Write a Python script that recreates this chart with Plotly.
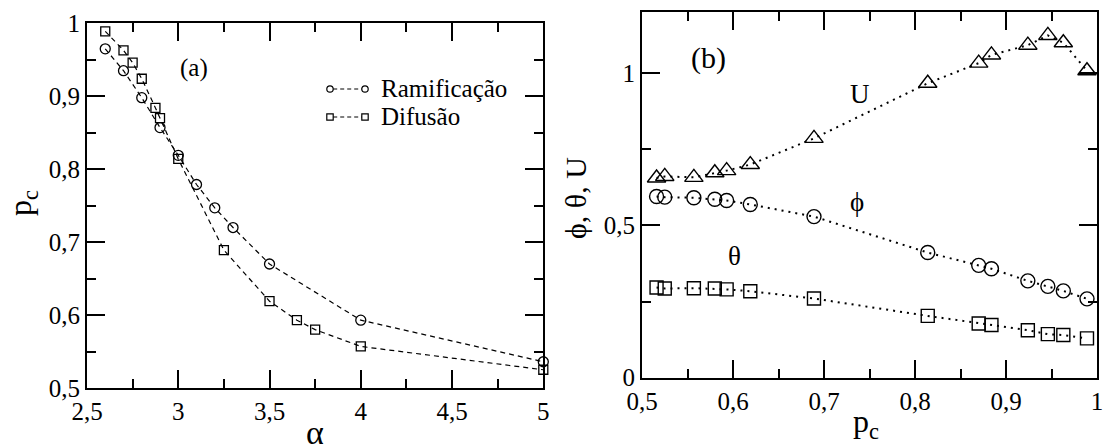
import plotly.graph_objects as go

# ---- data: panel (a) ----
alpha_ram = [2.6, 2.7, 2.8, 2.9, 3.0, 3.1, 3.2, 3.3, 3.5, 4.0, 5.0]
pc_ram = [0.965, 0.935, 0.898, 0.857, 0.819, 0.779, 0.747, 0.720, 0.670, 0.593, 0.536]
alpha_dif = [2.6, 2.7, 2.75, 2.8, 2.875, 2.9, 3.0, 3.25, 3.5, 3.65, 3.75, 4.0, 5.0]
pc_dif = [0.989, 0.963, 0.946, 0.924, 0.884, 0.870, 0.814, 0.689, 0.619, 0.593, 0.580, 0.557, 0.525]

# ---- data: panel (b) ----
pc_b = [0.516, 0.525, 0.557, 0.580, 0.593, 0.619, 0.689, 0.814, 0.870, 0.884, 0.924, 0.946, 0.963, 0.989]
U_vals = [0.656, 0.661, 0.658, 0.673, 0.680, 0.700, 0.786, 0.967, 1.033, 1.060, 1.092, 1.124, 1.100, 1.008]
phi_vals = [0.595, 0.593, 0.591, 0.586, 0.582, 0.569, 0.529, 0.411, 0.369, 0.358, 0.318, 0.300, 0.285, 0.259]
theta_vals = [0.296, 0.293, 0.294, 0.293, 0.290, 0.284, 0.260, 0.203, 0.178, 0.173, 0.156, 0.143, 0.140, 0.129]

x_ticks_a = [2.5, 3, 3.5, 4, 4.5, 5]
y_ticks_a = [0.5, 0.6, 0.7, 0.8, 0.9, 1.0]
x_ticks_b = [0.5, 0.6, 0.7, 0.8, 0.9, 1.0]
y_ticks_b = [0, 0.5, 1.0]

W, H = 1105, 445
FONT = "'Liberation Serif', 'Times New Roman', Tinos, 'DejaVu Serif', serif"


def px(x):
    return x / W


def py(y):
    return 1 - y / H


fig = go.Figure()

# panel (a)
fig.add_trace(go.Scatter(x=alpha_ram, y=pc_ram, mode="lines+markers", name="Ramificação",
                         line=dict(color="black", width=1.2, dash="5px,4px"),
                         marker=dict(symbol="circle-open", size=10, color="black", line=dict(width=1.3)),
                         cliponaxis=False, xaxis="x", yaxis="y", showlegend=False))
fig.add_trace(go.Scatter(x=alpha_dif, y=pc_dif, mode="lines+markers", name="Difusão",
                         line=dict(color="black", width=1.2, dash="5px,4px"),
                         marker=dict(symbol="square-open", size=9, color="black", line=dict(width=1.3)),
                         cliponaxis=False, xaxis="x", yaxis="y", showlegend=False))

# panel (b)
dot = dict(color="black", width=2, dash="2px,5px")
fig.add_trace(go.Scatter(x=pc_b, y=U_vals, mode="lines+markers", name="U", line=dot,
                         marker=dict(symbol="triangle-up-open", size=16, color="black", line=dict(width=1.4)),
                         cliponaxis=False, xaxis="x2", yaxis="y2", showlegend=False))
fig.add_trace(go.Scatter(x=pc_b, y=phi_vals, mode="lines+markers", name="ϕ", line=dot,
                         marker=dict(symbol="circle-open", size=14, color="black", line=dict(width=1.4)),
                         cliponaxis=False, xaxis="x2", yaxis="y2", showlegend=False))
fig.add_trace(go.Scatter(x=pc_b, y=theta_vals, mode="lines+markers", name="θ", line=dot,
                         marker=dict(symbol="square-open", size=13, color="black", line=dict(width=1.4)),
                         cliponaxis=False, xaxis="x2", yaxis="y2", showlegend=False))

axis_common = dict(showline=True, linecolor="black", linewidth=2, mirror="ticks",
                   ticks="inside", ticklen=18, tickwidth=1.5, tickcolor="black",
                   showgrid=False, zeroline=False, automargin=False,
                   tickfont=dict(family=FONT, size=25, color="black"))


def minor(d):
    return dict(dtick=d, ticks="inside", ticklen=9, tickwidth=1.5, tickcolor="black", showgrid=False)


fig.update_layout(
    width=W, height=H, margin=dict(l=0, r=0, t=0, b=0),
    paper_bgcolor="white", plot_bgcolor="white", separators=",.",
    font=dict(family=FONT, color="black"),
    xaxis=dict(domain=[px(87), px(543.3)], range=[2.5, 5], anchor="y",
               tickvals=x_ticks_a, minor=minor(0.25), **axis_common),
    yaxis=dict(domain=[py(388), py(23.3)], range=[0.5, 1.0], anchor="x",
               tickvals=y_ticks_a, minor=minor(0.05), **axis_common),
    xaxis2=dict(domain=[px(642), px(1097)], range=[0.5, 1.0], anchor="y2",
                tickvals=x_ticks_b, minor=minor(0.05), **axis_common),
    yaxis2=dict(domain=[py(377.7), py(12.3)], range=[0, 1.2], anchor="x2",
                tickvals=y_ticks_b, minor=minor(0.25), **axis_common),
)

ann = []


def add_text(text, x, y, size, angle=0):
    ann.append(dict(text=text, x=px(x), y=py(y), xref="paper", yref="paper",
                    xanchor="center", yanchor="middle", showarrow=False, textangle=angle,
                    font=dict(family=FONT, size=size, color="black")))


add_text("α", 315, 432, 34)
add_text("p<sub>c</sub>", 22, 203, 32, -90)
add_text("p<sub>c</sub>", 866, 423, 32)
add_text("ϕ, θ, U", 575, 198, 30, -90)
add_text("(a)", 194, 68, 25)
add_text("(b)", 708, 58, 30)
add_text("U", 860, 94, 27)
add_text("ϕ", 857, 202, 27)
add_text("θ", 734, 256, 27)

# legend (panel a)
for label, yy in [("Ramificação", 89), ("Difusão", 117)]:
    ann.append(dict(text=label, x=px(379), y=py(yy), xref="paper", yref="paper",
                    xanchor="left", yanchor="middle", showarrow=False,
                    font=dict(family=FONT, size=25, color="black")))

shapes = []
r = 3.2
for yy, kind in [(89, "circle"), (117, "rect")]:
    shapes.append(dict(type="line", xref="paper", yref="paper",
                       x0=px(330 + r), x1=px(365 - r), y0=py(yy), y1=py(yy),
                       line=dict(color="black", width=1.2, dash="4px,3px")))
    for cx in (330, 365):
        shapes.append(dict(type=kind, xref="paper", yref="paper",
                           x0=px(cx - r), x1=px(cx + r), y0=py(yy + r), y1=py(yy - r),
                           line=dict(color="black", width=1.2)))

fig.update_layout(annotations=ann, shapes=shapes)

fig.write_html("out.html", config={"displayModeBar": False},
               post_script="document.body.style.margin='0';")
